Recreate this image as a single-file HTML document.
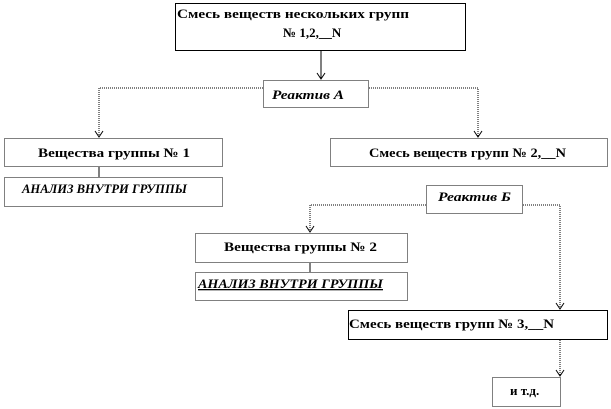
<!DOCTYPE html>
<html><head><meta charset="utf-8"><style>
html,body{margin:0;padding:0;background:#fff;width:611px;height:409px;overflow:hidden}
svg{display:block}
text{font-family:"Liberation Serif",serif;font-weight:bold;font-size:13px;fill:#000}
.i{font-style:italic}
</style></head><body>
<svg width="611" height="409" viewBox="0 0 611 409" xmlns="http://www.w3.org/2000/svg">
<defs><marker id="a" markerWidth="10" markerHeight="10" refX="7" refY="5" orient="auto" markerUnits="userSpaceOnUse">
<path d="M1,1 L7,5 L1,9" fill="none" stroke="#000" stroke-width="1"/></marker></defs>
<g fill="none" stroke="#000" stroke-width="1">
<rect x="175.5" y="3.5" width="290" height="47"/>
<line x1="321" y1="51" x2="321" y2="79" marker-end="url(#a)"/>
<rect x="263.5" y="80.5" width="105" height="27" stroke-dasharray="1,1"/>
<polyline points="263,88 99,88 99,137" stroke-dasharray="1,1" marker-end="url(#a)"/>
<polyline points="369,88 478,88 478,137" stroke-dasharray="1,1" marker-end="url(#a)"/>
<rect x="4.5" y="138.5" width="218" height="28" stroke-dasharray="1,1"/>
<line x1="99" y1="167" x2="99" y2="177"/>
<rect x="4.5" y="177.5" width="218" height="29" stroke-dasharray="1,1"/>
<rect x="330.5" y="138.5" width="277" height="28" stroke-dasharray="1,1"/>
<rect x="426.5" y="185.5" width="96" height="28" stroke-dasharray="1,1"/>
<polyline points="426,205 310,205 310,232" stroke-dasharray="1,1" marker-end="url(#a)"/>
<polyline points="523,205 560,205 560,309" stroke-dasharray="1,1" marker-end="url(#a)"/>
<rect x="195.5" y="233.5" width="212" height="29" stroke-dasharray="1,1"/>
<line x1="310" y1="263" x2="310" y2="272"/>
<rect x="195.5" y="272.5" width="212" height="28" stroke-dasharray="1,1"/>
<rect x="348.5" y="310.5" width="259" height="29"/>
<line x1="560" y1="340" x2="560" y2="376" stroke-dasharray="1,1" marker-end="url(#a)"/>
<rect x="492.5" y="377.5" width="68" height="29" stroke-dasharray="1,1"/>
</g>
<text x="177" y="18" textLength="232" lengthAdjust="spacingAndGlyphs">Смесь веществ нескольких групп</text>
<text x="283" y="37" font-size="14">№ 1,2,__N</text>
<text class="i" x="272" y="99" font-size="14" textLength="72" lengthAdjust="spacingAndGlyphs">Реактив А</text>
<text x="38" y="157" font-size="14" textLength="152" lengthAdjust="spacingAndGlyphs">Вещества группы № 1</text>
<text class="i" x="22" y="193" textLength="165" lengthAdjust="spacingAndGlyphs">АНАЛИЗ ВНУТРИ ГРУППЫ</text>
<text x="369" y="157" font-size="14" textLength="197" lengthAdjust="spacingAndGlyphs">Смесь веществ групп № 2,__N</text>
<text class="i" x="438" y="201" font-size="14" textLength="73" lengthAdjust="spacingAndGlyphs">Реактив Б</text>
<text x="224" y="251" font-size="14" textLength="153" lengthAdjust="spacingAndGlyphs">Вещества группы № 2</text>
<text class="i" x="198" y="288" textLength="185" lengthAdjust="spacingAndGlyphs" text-decoration="underline">АНАЛИЗ ВНУТРИ ГРУППЫ</text>
<text x="349" y="328" font-size="14" textLength="205" lengthAdjust="spacingAndGlyphs">Смесь веществ групп № 3,__N</text>
<text x="510" y="395">и  т.д.</text>
</svg>
</body></html>
